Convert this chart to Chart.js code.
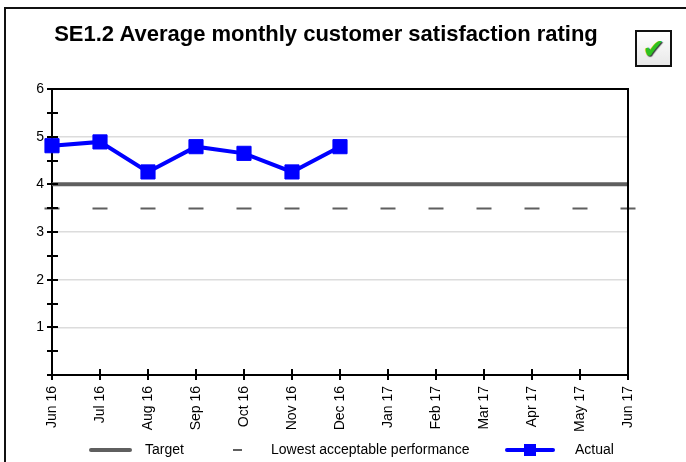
<!DOCTYPE html>
<html>
<head>
<meta charset="utf-8">
<script src="https://cdn.jsdelivr.net/npm/chart.js@4.4.1/dist/chart.umd.min.js"></script>
<style>
  html, body { margin: 0; padding: 0; background: #fff; }
  #wrap { position: relative; width: 686px; height: 462px; overflow: hidden; font-family: 'Liberation Sans', Arial, sans-serif; }
  #frame { position: absolute; left: 4px; top: 7px; width: 700px; height: 470px; border: 2px solid #111; box-sizing: border-box; }
  #title { position: absolute; left: 0; top: 23px; width: 652px; text-align: center; font-size: 22px; line-height: 22px; font-weight: bold; color: #000; }
  #status { position: absolute; left: 635px; top: 30px; width: 37px; height: 37px; box-sizing: border-box; border: 2px solid #111; background: linear-gradient(#ffffff, #e8e8e8); text-align: center; line-height: 34px; font-size: 27px; color: #2fc21f; font-family: 'DejaVu Sans', sans-serif; text-shadow: 1px 1px 1px #333; }
  #chart { position: absolute; left: 0; top: 0; }
  #legend { position: absolute; left: 0; top: 440px; width: 686px; height: 20px; font-size: 14px; color: #000; }
  #legend span { position: absolute; top: 1px; }
  .sw { position: absolute; }
</style>
</head>
<body>
<div id="wrap">
  <div id="frame"></div>
  <canvas id="chart" width="686" height="462"></canvas>
  <div id="title">SE1.2 Average monthly customer satisfaction rating</div>
  <div id="status">✔</div>
  <div id="legend">
    <div class="sw" style="left:89px;top:8px;width:43px;height:4px;background:#5f5f5f;border-radius:2px"></div>
    <span style="left:145px">Target</span>
    <div class="sw" style="left:233px;top:9px;width:9px;height:2px;background:#5f5f5f"></div>
    <span style="left:271px">Lowest acceptable performance</span>
    <div class="sw" style="left:505px;top:8px;width:50px;height:4px;background:#0000ff;border-radius:2px"></div>
    <div class="sw" style="left:524px;top:4px;width:12px;height:12px;background:#0000ff"></div>
    <span style="left:575px">Actual</span>
  </div>
</div>
<script>
(function() {
  'use strict';

  var MONTHS = ['Jun 16', 'Jul 16', 'Aug 16', 'Sep 16', 'Oct 16', 'Nov 16', 'Dec 16',
    'Jan 17', 'Feb 17', 'Mar 17', 'Apr 17', 'May 17', 'Jun 17'];
  var ACTUAL = [4.81, 4.89, 4.26, 4.79, 4.65, 4.26, 4.79, null, null, null, null, null, null];
  var TARGET = [4, 4, 4, 4, 4, 4, 4, 4, 4, 4, 4, 4, 4];
  var LOWEST = 3.5;
  var Y_MIN = 0;
  var Y_MAX = 6;

  // axis tick marks that cross the axis line, the box top/right edges, and the dashed floor line
  var axisExtras = {
    id: 'axisExtras',
    beforeDatasetsDraw: function(chart) {
      var ctx = chart.ctx;
      var a = chart.chartArea;
      var x = chart.scales.x;
      var y = chart.scales.y;
      var ly = Math.round(y.getPixelForValue(LOWEST)) + 0.5;
      var step = x.getPixelForValue(1) - x.getPixelForValue(0);
      ctx.save();
      ctx.strokeStyle = '#5f5f5f';
      ctx.lineWidth = 2;
      ctx.setLineDash([15, step - 15]);
      ctx.beginPath();
      ctx.moveTo(a.left - 7.5, ly);
      ctx.lineTo(a.right + 9, ly);
      ctx.stroke();
      ctx.restore();
    },
    afterDraw: function(chart) {
      var ctx = chart.ctx;
      var a = chart.chartArea;
      var x = chart.scales.x;
      var y = chart.scales.y;
      var i, p;
      ctx.save();
      ctx.strokeStyle = '#000';
      ctx.lineWidth = 2;
      ctx.beginPath();
      ctx.moveTo(a.left, a.top);
      ctx.lineTo(a.right, a.top);
      ctx.lineTo(a.right, a.bottom);
      ctx.stroke();
      ctx.beginPath();
      for (i = 0; i < y.ticks.length; i++) {
        p = Math.round(y.getPixelForValue(y.ticks[i].value));
        ctx.moveTo(a.left - 5, p);
        ctx.lineTo(a.left + 6, p);
      }
      for (i = 0; i < MONTHS.length; i++) {
        p = Math.round(x.getPixelForValue(i));
        ctx.moveTo(p, a.bottom - 6);
        ctx.lineTo(p, a.bottom + 5);
      }
      ctx.stroke();
      ctx.restore();
    }
  };

  var font = { family: "'Liberation Sans', Arial, sans-serif", size: 14 };

  new Chart(document.getElementById('chart'), {
    type: 'line',
    data: {
      labels: MONTHS,
      datasets: [
        {
          label: 'Actual',
          data: ACTUAL,
          borderColor: '#0000ff',
          backgroundColor: '#0000ff',
          borderWidth: 4,
          pointStyle: 'rect',
          pointRadius: 10,
          pointBorderWidth: 1,
          tension: 0,
          spanGaps: false,
          clip: false
        },
        {
          label: 'Target',
          data: TARGET,
          borderColor: '#5f5f5f',
          borderWidth: 4,
          pointRadius: 0,
          tension: 0
        }
      ]
    },
    options: {
      responsive: false,
      animation: false,
      layout: { padding: { top: 89, left: 0, right: 58, bottom: 25 } },
      plugins: {
        legend: { display: false },
        title: { display: false },
        tooltip: { enabled: false }
      },
      scales: {
        x: {
          offset: false,
          border: { color: '#000', width: 2 },
          grid: { drawOnChartArea: false, drawTicks: false },
          ticks: { color: '#000', font: font, minRotation: 90, maxRotation: 90, autoSkip: false, padding: 11 },
          afterFit: function(s) { s.height = 62; }
        },
        y: {
          min: Y_MIN,
          max: Y_MAX,
          border: { color: '#000', width: 2 },
          grid: {
            drawTicks: false,
            lineWidth: 1.5,
            color: function(c) {
              var v = c.tick ? c.tick.value : 0;
              return (v % 1 === 0 && v > 0 && v < Y_MAX) ? '#dcdcdc' : 'rgba(0,0,0,0)';
            }
          },
          ticks: {
            stepSize: 0.5,
            color: '#000',
            font: font,
            padding: 8,
            callback: function(v) { return (v % 1 === 0 && v > 0) ? String(v) : ''; }
          },
          afterFit: function(s) { s.width = 52; }
        }
      }
    },
    plugins: [axisExtras]
  });
})();
</script>
</body>
</html>
